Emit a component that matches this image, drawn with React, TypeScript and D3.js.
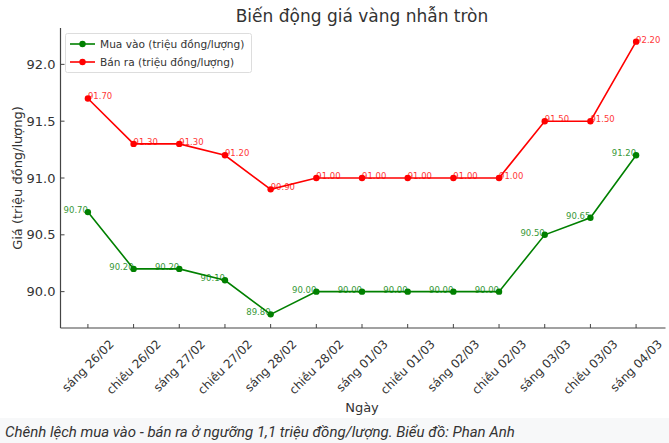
import React from "react";
import * as d3 from "d3";

const categories = [
  "sáng 26/02", "chiều 26/02", "sáng 27/02", "chiều 27/02", "sáng 28/02",
  "chiều 28/02", "sáng 01/03", "chiều 01/03", "sáng 02/03", "chiều 02/03",
  "sáng 03/03", "chiều 03/03", "sáng 04/03",
];
const buyValues = [90.7, 90.2, 90.2, 90.1, 89.8, 90.0, 90.0, 90.0, 90.0, 90.0, 90.5, 90.65, 91.2];
const sellValues = [91.7, 91.3, 91.3, 91.2, 90.9, 91.0, 91.0, 91.0, 91.0, 91.0, 91.5, 91.5, 92.2];
const yTicks = [90.0, 90.5, 91.0, 91.5, 92.0];
const seriesNames = ["Mua vào (triệu đồng/lượng)", "Bán ra (triệu đồng/lượng)"];

const W = 669;
const H = 443;
const L = 60.5, R = 663.5, T = 28, B = 328;
const FONT = "DejaVu Sans, sans-serif";
const AXIS = "#444";
const XFS = 12;

let ctx: CanvasRenderingContext2D | null = null;
function measure(s: string, size: number) {
  if (!ctx && typeof document !== "undefined") ctx = document.createElement("canvas").getContext("2d");
  if (!ctx) return s.length * size * 0.6;
  ctx.font = `${size}px "DejaVu Sans"`;
  return ctx.measureText(s).width;
}

export default function App() {
  const x = d3.scaleLinear().domain([-0.6, categories.length - 1 + 0.6]).range([L, R]);
  const all = [...buyValues, ...sellValues];
  const lo = d3.min(all)!, hi = d3.max(all)!;
  const pad = (hi - lo) * 0.05;
  const y = d3.scaleLinear().domain([lo - pad, hi + pad]).range([B, T]);
  const line = d3.line<number>().x((_, i) => x(i)).y((d) => y(d));

  const series = [
    { name: seriesNames[0], values: buyValues, color: "#008000", anchor: "end" },
    { name: seriesNames[1], values: sellValues, color: "#ff0000", anchor: "start" },
  ];

  return (
    <svg width={W} height={H} style={{ position: "fixed", top: 0, left: 0, background: "#fff" }}>
      <rect x={0} y={0} width={W} height={H} fill="#fff" />
      <rect x={0} y={418} width={W} height={H - 418} fill="#f7f8f9" />
      <text x={(L + R) / 2} y={22} textAnchor="middle" fontFamily={FONT} fontSize={17} fill="#333">
        Biến động giá vàng nhẫn tròn
      </text>

      {/* y axis */}
      <line x1={L} x2={L} y1={T} y2={B} stroke={AXIS} strokeWidth={1.2} />
      {yTicks.map((t) => (
        <g key={t}>
          <line x1={L} x2={L + 4} y1={y(t)} y2={y(t)} stroke={AXIS} strokeWidth={1} />
          <text x={L - 5} y={y(t)} dy="0.35em" textAnchor="end" fontFamily={FONT} fontSize={13} fill="#333">
            {t.toFixed(1)}
          </text>
        </g>
      ))}
      <text
        transform={`translate(17,${(T + B) / 2}) rotate(-90)`}
        textAnchor="middle"
        dy="0.35em"
        fontFamily={FONT}
        fontSize={13}
        fill="#333"
      >
        Giá (triệu đồng/lượng)
      </text>

      {/* x axis */}
      <line x1={L} x2={R + 2} y1={B} y2={B} stroke={AXIS} strokeWidth={1.2} />
      {categories.map((c, i) => {
        const w = measure(c, XFS);
        const h = XFS * 1.15;
        const half = ((w + h) * Math.SQRT1_2) / 2;
        const cy = B + 9 + half;
        return (
          <g key={c}>
            <line x1={x(i)} x2={x(i)} y1={B} y2={B - 4} stroke={AXIS} strokeWidth={1} />
            <text
              transform={`translate(${x(i)},${cy}) rotate(-45)`}
              textAnchor="middle"
              dy="0.35em"
              fontFamily={FONT}
              fontSize={XFS}
              fill="#333"
            >
              {c}
            </text>
          </g>
        );
      })}
      <text x={(L + R) / 2} y={412} textAnchor="middle" fontFamily={FONT} fontSize={13} fill="#333">
        Ngày
      </text>

      {/* series */}
      {series.map((s) => (
        <g key={s.name}>
          <path d={line(s.values)!} fill="none" stroke={s.color} strokeWidth={1.6} />
          {s.values.map((v, i) => (
            <circle key={i} cx={x(i)} cy={y(v)} r={3.2} fill={s.color} />
          ))}
          {s.values.map((v, i) => (
            <text
              key={"t" + i}
              x={x(i)}
              y={y(v) + 1}
              textAnchor={s.anchor}
              fontFamily={FONT}
              fontSize={8.5}
              fill={s.color}
              opacity={0.8}
            >
              {v.toFixed(2)}
            </text>
          ))}
        </g>
      ))}

      {/* legend */}
      <rect x={65.5} y={33.5} width={186} height={39} fill="#fff" fillOpacity={0.8} stroke="#ddd" rx={2} />
      {series.map((s, i) => (
        <g key={"lg" + i} transform={`translate(0,${44 + i * 18})`}>
          <line x1={70} x2={95} y1={0} y2={0} stroke={s.color} strokeWidth={1.6} />
          <circle cx={82.5} cy={0} r={3.2} fill={s.color} />
          <text x={100} y={0} dy="0.35em" fontFamily={FONT} fontSize={10.6} fill="#333">
            {s.name}
          </text>
        </g>
      ))}

      <text x={5} y={437} fontFamily="Roboto, sans-serif" fontStyle="italic" fontSize={15} fill="#333">
        Chênh lệch mua vào - bán ra ở ngưỡng 1,1 triệu đồng/lượng. Biểu đồ: Phan Anh
      </text>
    </svg>
  );
}
